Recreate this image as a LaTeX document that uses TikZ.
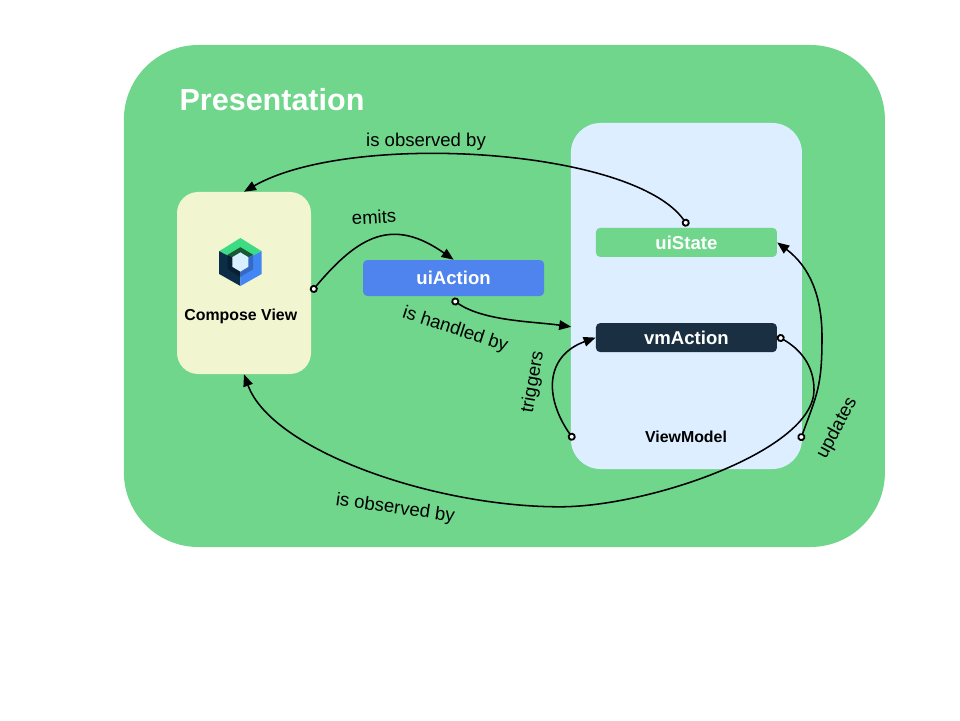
\documentclass[tikz,border=0pt]{standalone}
\usepackage{fontspec}
\setmainfont{Liberation Sans}
\usetikzlibrary{positioning,arrows.meta,calc}

\definecolor{panelgreen}{HTML}{6FD68B}
\definecolor{viewyellow}{HTML}{F1F5D0}
\definecolor{modelblue}{HTML}{DCEEFF}
\definecolor{actionblue}{HTML}{4F83EE}
\definecolor{actiondark}{HTML}{1A2F42}
\definecolor{logogreen}{HTML}{3DDC84}
\definecolor{logoblue}{HTML}{4285F4}
\definecolor{logodark}{HTML}{0B2D47}
\definecolor{logolight}{HTML}{D7EFFF}

\begin{document}
\begin{tikzpicture}[
  arr/.style={{Circle[open,fill=white,length=2mm,width=2mm,line width=1.3pt]}-{Triangle[length=3mm,width=2.4mm]}, line width=1.1pt},
  lbl/.style={font=\fontsize{13.2}{16}\selectfont},
  panel/.style={rounded corners=#1, inner sep=0pt},
  action/.style={rounded corners=3pt, inner sep=0pt, minimum width=4.525cm, font=\fontsize{13.2}{16}\selectfont\bfseries, text=white},
  title/.style={font=\fontsize{11.3}{14}\selectfont\bfseries}
]
\useasboundingbox (0,0) rectangle (24,18);

\node[panel=53pt, fill=panelgreen, minimum width=19.025cm, minimum height=12.55cm] (presentation) at (12.61,10.6) {};
\node[font=\fontsize{21.7}{26}\selectfont\bfseries, text=white] (ptitle) at (6.8,15.5) {Presentation};

\node[panel=21pt, fill=modelblue, minimum width=5.775cm, minimum height=8.65cm] (viewmodel) at (17.16,10.6) {};
\node[panel=15pt, fill=viewyellow, minimum width=3.35cm, minimum height=4.55cm] (compose) at (6.1,10.925) {};

\node[action, fill=actionblue, minimum height=0.9cm] (uiaction) at (11.34,11.05) {uiAction};
\node[action, fill=panelgreen, minimum height=0.725cm] (uistate) at (17.16,11.94) {uiState};
\node[action, fill=actiondark, minimum height=0.725cm] (vmaction) at (17.16,9.56) {vmAction};

\node[title] (composelbl) at (6.02,10.09) {Compose View};
\node[title] (vmlbl) at (17.15,7.07) {ViewModel};

% Compose logo
\coordinate (logo) at (6.01,11.45);
\fill[logogreen] ($(logo)+(0,.6)$) -- ($(logo)+(.53,.27)$) -- ($(logo)+(0,0)$) -- ($(logo)+(-.53,.27)$) -- cycle;
\fill[logodark] ($(logo)+(-.53,.27)$) -- (logo) -- ($(logo)+(0,-.6)$) -- ($(logo)+(-.53,-.3)$) -- cycle;
\fill[logoblue] ($(logo)+(.53,.27)$) -- (logo) -- ($(logo)+(0,-.6)$) -- ($(logo)+(.53,-.3)$) -- cycle;
\fill[black!60!logogreen] ($(logo)+(0,.37)$) -- ($(logo)+(.32,.18)$) -- (logo) -- ($(logo)+(-.32,.18)$) -- cycle;
\fill[logodark!70!black] ($(logo)+(-.32,.18)$) -- (logo) -- ($(logo)+(0,-.37)$) -- ($(logo)+(-.32,-.18)$) -- cycle;
\fill[logoblue!80!black] ($(logo)+(.32,.18)$) -- (logo) -- ($(logo)+(0,-.37)$) -- ($(logo)+(.32,-.18)$) -- cycle;
\fill[logolight] ($(logo)+(0,.24)$) -- ($(logo)+(.2,.12)$) -- ($(logo)+(.2,-.12)$) -- ($(logo)+(0,-.24)$) -- ($(logo)+(-.2,-.12)$) -- ($(logo)+(-.2,.12)$) -- cycle;

% Connector ends
\coordinate (obsstart) at (17.2,12.35);
\coordinate (emitstart) at (7.78,10.7);
\coordinate (hdlstart) at (11.3,10.52);
\coordinate (hdlend) at (14.28,9.83);
\coordinate (trgstart) at (14.35,7);
\coordinate (vmstart) at (19.43,9.6);
\coordinate (vmbend) at (20.35,8.25);
\coordinate (vmlow) at (14,5.33);
\coordinate (updstart) at (20.0,6.98);
\coordinate (updbend) at (20.55,9.57);

\draw[arr] (obsstart) to[out=125,in=30,out looseness=.55,in looseness=.7] (compose.north);
\draw[arr] (emitstart) to[out=50,in=145,looseness=1.3] (uiaction.north);
\draw[arr] (hdlstart) to[out=-35,in=172,looseness=.8] (hdlend);
\draw[arr] (trgstart) to[out=125,in=200,looseness=1.3] (vmaction.west);
\draw[arr] (vmstart) to[out=-30,in=90] (vmbend) to[out=-90,in=0,out looseness=.55,in looseness=.82] (vmlow) to[out=180,in=-70,out looseness=.95,in looseness=.6] (compose.south);
\draw[arr] (updstart) to[out=70,in=-90,looseness=1.2] (updbend) to[out=90,in=-37] (uistate.east);

% Labels
\node[lbl] (obstop) at (10.65,14.45) {is observed by};
\node[lbl, rotate=3] (emits) at (9.35,12.58) {emits};
\node[lbl, rotate=-18] (handled) at (11.38,9.75) {is handled by};
\node[lbl, rotate=80] (triggers) at (13.33,8.45) {triggers};
\node[lbl, rotate=62] (updates) at (20.93,7.3) {updates};
\node[lbl, rotate=-8] (obslow) at (9.88,5.28) {is observed by};
\end{tikzpicture}
\end{document}
